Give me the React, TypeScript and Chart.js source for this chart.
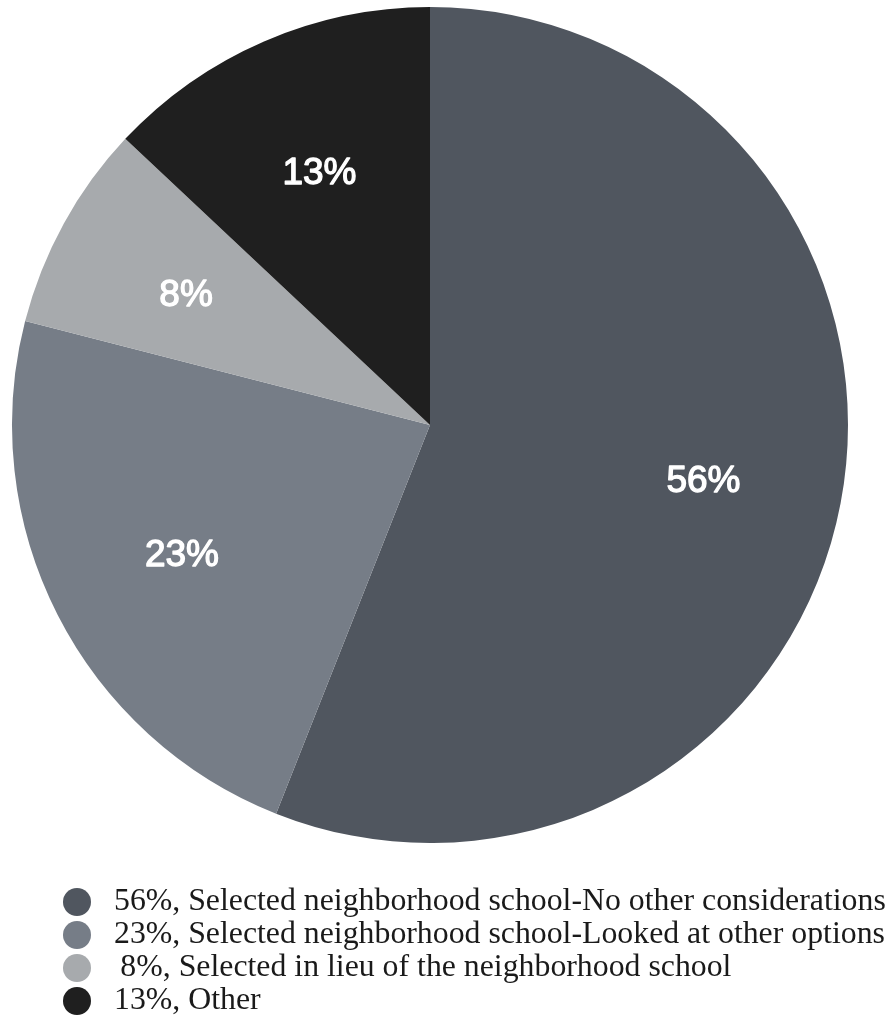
import React, { useEffect, useRef } from "react";
import { Chart, registerables } from "chart.js";

Chart.register(...registerables);

const categories = [
  "Selected neighborhood school-No other considerations",
  "Selected neighborhood school-Looked at other options",
  "Selected in lieu of the neighborhood school",
  "Other",
];
const values = [56, 23, 8, 13];
const colors = ["#50565f", "#767d87", "#a7aaad", "#1f1f1f"];
const legendTexts = values.map(
  (v, i) => `${v < 10 ? "\u2009" : ""}${v}%, ${categories[i]}`
);

const W = 892;
const H = 1018;

const sliceLabels = {
  id: "sliceLabels",
  afterDatasetsDraw(chart: any) {
    const ctx = chart.ctx;
    const meta = chart.getDatasetMeta(0);
    ctx.save();
    ctx.fillStyle = "#ffffff";
    ctx.strokeStyle = "#ffffff";
    ctx.lineWidth = 1.3;
    ctx.lineJoin = "round";
    ctx.font = '37px "Liberation Sans", Arial, sans-serif';
    ctx.textAlign = "center";
    ctx.textBaseline = "middle";
    meta.data.forEach((arc: any, i: number) => {
      const mid = (arc.startAngle + arc.endAngle) / 2;
      const r = arc.outerRadius * 0.666;
      const x = arc.x + Math.cos(mid) * r;
      const y = arc.y + Math.sin(mid) * r + 4.5;
      ctx.fillText(`${values[i]}%`, x, y);
      ctx.strokeText(`${values[i]}%`, x, y);
    });
    ctx.restore();
  },
};

const customLegend = {
  id: "customLegend",
  afterDraw(chart: any) {
    const ctx = chart.ctx;
    const top = chart.chartArea.bottom;
    ctx.save();
    ctx.font = '31.8px "Liberation Serif", "Times New Roman", serif';
    ctx.textAlign = "left";
    ctx.textBaseline = "middle";
    legendTexts.forEach((t, i) => {
      const cy = top + 59 + i * 33;
      ctx.beginPath();
      ctx.fillStyle = colors[i];
      ctx.arc(77, cy, 14, 0, Math.PI * 2);
      ctx.fill();
      ctx.fillStyle = "#1a1a1a";
      ctx.fillText(t, 114, cy);
    });
    ctx.restore();
  },
};

export default function App() {
  const ref = useRef<HTMLCanvasElement>(null);
  useEffect(() => {
    document.body.style.margin = "0";
    const chart = new Chart(ref.current!, {
      type: "pie",
      data: {
        labels: categories,
        datasets: [
          {
            data: values,
            backgroundColor: colors,
            borderWidth: 0,
            hoverOffset: 0,
          },
        ],
      },
      options: {
        responsive: false,
        animation: false,
        layout: { padding: { left: 12, right: 44, top: 7, bottom: 175 } },
        plugins: {
          legend: { display: false },
          tooltip: { enabled: false },
        },
      },
      plugins: [sliceLabels, customLegend],
    });
    return () => chart.destroy();
  }, []);
  return (
    <div style={{ width: W, height: H, background: "#fff" }}>
      <canvas ref={ref} width={W} height={H} />
    </div>
  );
}
